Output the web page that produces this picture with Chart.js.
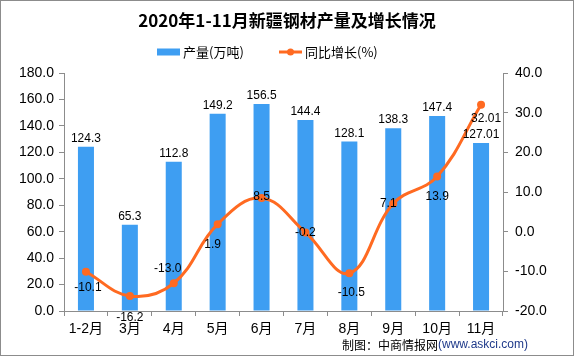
<!DOCTYPE html>
<html>
<head>
<meta charset="utf-8">
<script src="https://cdn.jsdelivr.net/npm/chart.js@4.4.0/dist/chart.umd.min.js"></script>
<style>
  html, body { margin: 0; padding: 0; background: #fff; }
  #wrap { width: 574px; height: 356px; position: relative; }
</style>
</head>
<body>
<div id="wrap"><canvas id="c" width="574" height="356"></canvas></div>
<script>
const categories = ['1-2月', '3月', '4月', '5月', '6月', '7月', '8月', '9月', '10月', '11月'];
const output = [124.3, 65.3, 112.8, 149.2, 156.5, 144.4, 128.1, 138.3, 147.4, 127.01];
const outputLabels = ['124.3', '65.3', '112.8', '149.2', '156.5', '144.4', '128.1', '138.3', '147.4', '127.01'];
const growth = [-10.1, -16.2, -13.0, 1.9, 8.5, -0.2, -10.5, 7.1, 13.9, 32.01];
const growthLabels = ['-10.1', '-16.2', '-13.0', '1.9', '8.5', '-0.2', '-10.5', '7.1', '13.9', '32.01'];
const leftTicks = { min: 0, max: 180, step: 20 };
const rightTicks = { min: -20, max: 40, step: 10 };
const seriesNames = ['产量(万吨)', '同比增长(%)'];

const BAR_COLOR = '#3E9EF2';
const LINE_COLOR = '#FF6A21';
const NUM_FONT = '"Liberation Sans", "Noto Sans CJK SC", sans-serif';
const CJK_FONT = '"Noto Sans CJK SC", "Liberation Sans", sans-serif';

// label offsets for the growth line labels (style only)
const lineLabelOffsets = [[2,16],[0,22],[-6,-15],[-5,21],[0,-1],[0,0],[2,19],[-5,0],[0,20],[5,14]];

const decorPlugin = {
  id: 'decor',
  afterDatasetsDraw(chart) {
    const ctx = chart.ctx;
    ctx.save();
    ctx.textAlign = 'center';
    ctx.textBaseline = 'middle';
    ctx.fillStyle = '#000';
    ctx.font = '12px ' + NUM_FONT;
    const barMeta = chart.getDatasetMeta(0);
    barMeta.data.forEach((el, i) => {
      ctx.fillText(outputLabels[i], el.x, el.y - 8);
    });
    const lineMeta = chart.getDatasetMeta(1);
    lineMeta.data.forEach((el, i) => {
      const o = lineLabelOffsets[i];
      ctx.fillText(growthLabels[i], el.x + o[0], el.y + o[1]);
    });
    ctx.restore();
  },
  afterDraw(chart) {
    const ctx = chart.ctx;
    ctx.save();
    // legend
    const ly = 52;
    ctx.fillStyle = BAR_COLOR;
    ctx.fillRect(157, ly - 3.5, 23, 7);
    ctx.font = '13px ' + CJK_FONT;
    ctx.fillStyle = '#000';
    ctx.textBaseline = 'middle';
    ctx.textAlign = 'left';
    ctx.fillText(seriesNames[0], 183, ly);
    ctx.strokeStyle = LINE_COLOR;
    ctx.lineWidth = 3;
    ctx.beginPath(); ctx.moveTo(279, ly); ctx.lineTo(302, ly); ctx.stroke();
    ctx.fillStyle = LINE_COLOR;
    ctx.beginPath(); ctx.arc(290.5, ly, 3.5, 0, Math.PI * 2); ctx.fill();
    ctx.fillStyle = '#000';
    ctx.fillText(seriesNames[1], 305, ly);

    // source note
    const part1 = '制图：中商情报网';
    const part2 = '(www.askci.com)';
    ctx.font = '12px ' + CJK_FONT;
    const w1 = ctx.measureText(part1).width;
    ctx.font = '12px ' + NUM_FONT;
    const w2 = ctx.measureText(part2).width;
    const xEnd = 528;
    const x0 = xEnd - w1 - w2;
    ctx.font = '12px ' + CJK_FONT;
    ctx.fillStyle = '#000';
    ctx.fillText(part1, x0, 345);
    ctx.font = '12px ' + NUM_FONT;
    ctx.fillStyle = '#1F3A8A';
    ctx.fillText(part2, x0 + w1, 345);
    // outer border
    ctx.strokeStyle = '#8c8c8c';
    ctx.lineWidth = 1;
    ctx.strokeRect(0.5, 0.5, 573, 355);
    ctx.restore();
  }
};

new Chart(document.getElementById('c'), {
  data: {
    labels: categories,
    datasets: [
      {
        type: 'bar',
        label: seriesNames[0],
        data: output,
        yAxisID: 'y',
        backgroundColor: BAR_COLOR,
        categoryPercentage: 1,
        barPercentage: 0.365,
        order: 1
      },
      {
        type: 'line',
        label: seriesNames[1],
        data: growth,
        yAxisID: 'y1',
        borderColor: LINE_COLOR,
        backgroundColor: LINE_COLOR,
        borderWidth: 3,
        pointRadius: 4,
        pointBackgroundColor: LINE_COLOR,
        pointBorderWidth: 0,
        tension: 0.4,
        order: 0
      }
    ]
  },
  options: {
    responsive: false,
    animation: false,
    devicePixelRatio: 1,
    layout: { padding: { left: 0, right: 0, top: 0, bottom: 0 } },
    plugins: {
      title: {
        display: true,
        text: '2020年1-11月新疆钢材产量及增长情况',
        color: '#000',
        font: { family: CJK_FONT, size: 17, weight: 'bold' },
        padding: { top: 10, bottom: 42.6 }
      },
      legend: { display: false },
      tooltip: { enabled: false }
    },
    scales: {
      x: {
        offset: true,
        grid: { display: true, drawOnChartArea: false, drawTicks: true, tickLength: 5, color: '#8c8c8c', offset: true },
        border: { display: true, color: '#8c8c8c' },
        ticks: { color: '#000', font: { family: NUM_FONT, size: 14 }, padding: 5, maxRotation: 0, autoSkip: false },
        afterFit(s) { s.height = 45; }
      },
      y: {
        position: 'left',
        min: leftTicks.min, max: leftTicks.max,
        grid: { display: true, drawOnChartArea: false, drawTicks: true, tickLength: 5, color: '#8c8c8c' },
        border: { display: true, color: '#8c8c8c' },
        ticks: { stepSize: leftTicks.step, color: '#000', font: { family: NUM_FONT, size: 14 }, padding: 5,
                 callback: v => Number(v).toFixed(1) },
        afterFit(s) { s.width = 64; }
      },
      y1: {
        position: 'right',
        min: rightTicks.min, max: rightTicks.max,
        grid: { display: true, drawOnChartArea: false, drawTicks: true, tickLength: 5, color: '#8c8c8c' },
        border: { display: true, color: '#8c8c8c' },
        ticks: { stepSize: rightTicks.step, color: '#000', font: { family: NUM_FONT, size: 14 }, padding: 7,
                 callback: v => Number(v).toFixed(1) },
        afterFit(s) { s.width = 71; }
      }
    }
  },
  plugins: [decorPlugin]
});
</script>
</body>
</html>
